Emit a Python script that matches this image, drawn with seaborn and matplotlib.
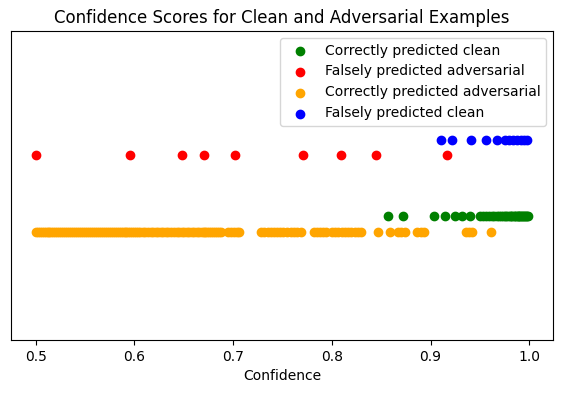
# Import libraries
import numpy as np
import pandas as pd
import matplotlib
matplotlib.use("Agg")
import matplotlib.pyplot as plt
import seaborn as sns

# Confidence values
clean_correct = [0.857, 0.872, 0.903, 0.915, 0.925, 0.932, 0.940, 0.950, 0.953, 0.956,
                 0.959, 0.962, 0.964, 0.967, 0.969, 0.971, 0.973, 0.975, 0.976, 0.978,
                 0.980, 0.981, 0.982, 0.984, 0.985, 0.986, 0.988, 0.989, 0.990, 0.991,
                 0.992, 0.993, 0.994, 0.995, 0.996, 0.997, 0.998, 0.999]
adv_false = [0.500, 0.596, 0.648, 0.671, 0.702, 0.771, 0.809, 0.845, 0.917]
adv_correct = [0.500, 0.502, 0.504, 0.506, 0.508, 0.510, 0.512, 0.514, 0.516, 0.518,
               0.520, 0.522, 0.524, 0.526, 0.528, 0.530, 0.532, 0.534, 0.536, 0.538,
               0.540, 0.542, 0.544, 0.546, 0.548, 0.550, 0.552, 0.554, 0.556, 0.558,
               0.560, 0.562, 0.564, 0.566, 0.568, 0.570, 0.572, 0.574, 0.576, 0.578,
               0.580, 0.582, 0.584, 0.586, 0.588, 0.590, 0.592, 0.594, 0.596, 0.598,
               0.600, 0.602, 0.604, 0.606, 0.609, 0.611, 0.614, 0.617, 0.619, 0.622,
               0.624, 0.627, 0.629, 0.632, 0.634, 0.637, 0.640, 0.643, 0.645, 0.648,
               0.650, 0.653, 0.655, 0.658, 0.660, 0.663, 0.665, 0.668, 0.670, 0.672,
               0.674, 0.676, 0.678, 0.680, 0.682, 0.684, 0.686, 0.688,
               0.695, 0.698, 0.701, 0.704, 0.706,
               0.728, 0.731, 0.735, 0.738, 0.741, 0.744, 0.747, 0.751, 0.755, 0.759,
               0.762, 0.765, 0.769,
               0.782, 0.785, 0.788, 0.791, 0.794, 0.800, 0.803, 0.806, 0.810, 0.813,
               0.816, 0.819, 0.823, 0.826, 0.829,
               0.847, 0.859, 0.867, 0.870, 0.874, 0.886, 0.890, 0.893,
               0.936, 0.939, 0.942, 0.961]
clean_false = [0.911, 0.922, 0.941, 0.956, 0.967, 0.975, 0.979, 0.983, 0.987, 0.992,
               0.995, 0.998]

# Vertical row for each group (axes is 0..1)
groups = [
    ("Correctly predicted clean", clean_correct, 0.401, "green"),
    ("Falsely predicted adversarial", adv_false, 0.599, "red"),
    ("Correctly predicted adversarial", adv_correct, 0.350, "orange"),
    ("Falsely predicted clean", clean_false, 0.647, "blue"),
]

fig, ax = plt.subplots(figsize=(5.62, 3.93), dpi=100)
fig.subplots_adjust(left=0.0196, right=0.984, top=0.921, bottom=0.135)

for label, vals, row, color in groups:
    df = pd.DataFrame({"conf": vals, "y": [row] * len(vals)})
    sns.scatterplot(data=df, x="conf", y="y", color=color, label=label,
                    s=36, edgecolor=color, linewidth=1, ax=ax)

ax.set_ylim(0, 1)
ax.set_yticks([])
ax.set_ylabel("")
ax.set_xlabel("Confidence")
ax.set_title("Confidence Scores for Clean and Adversarial Examples")
ax.legend(loc="upper right")

plt.savefig("out.png", dpi=100)
plt.close()
